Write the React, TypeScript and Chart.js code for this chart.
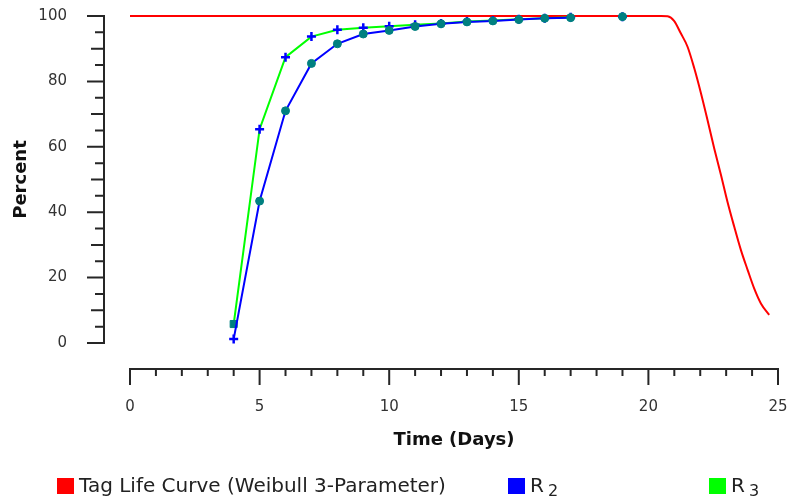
import React, { useEffect, useRef } from "react";
import { Chart, registerables } from "chart.js";

Chart.register(...registerables);

// ---- data ----
const curveDays = [0, 20.5, 20.74, 20.99, 21.25, 21.51, 21.77, 22.03, 22.28, 22.54, 22.8, 23.05, 23.31, 23.57, 23.83, 24.08, 24.34, 24.66];
const curvePercent = [100, 100, 99.9, 98.5, 94.7, 90.6, 84.0, 76.3, 68.2, 59.5, 51.4, 43.2, 35.6, 28.4, 22.3, 16.7, 12.1, 8.6];

const sampleDays = [4, 5, 6, 7, 8, 9, 10, 11, 12, 13, 14, 15, 16, 17, 18, 19];
const r2Percent = [1.2, 43.4, 71.0, 85.5, 91.5, 94.5, 95.6, 96.8, 97.6, 98.2, 98.5, 98.9, 99.3, 99.5, null, 99.8];
const r3Percent = [5.8, 65.4, 87.4, 93.7, 95.8, 96.4, 96.9, 97.3, 97.7, 98.3, 98.6, 99.0, 99.3, 99.6, null, 99.8];

const xTickLabels = [0, 5, 10, 15, 20, 25];
const yTickLabels = [0, 20, 40, 60, 80, 100];
const seriesLabels = ["Tag Life Curve (Weibull 3-Parameter)", "R\u2082", "R\u2083"];
const xTitle = "Time (Days)";
const yTitle = "Percent";

// ---- layout / style constants ----
const W = 788;
const H = 502;
const FONT = "DejaVu Sans";
const AXIS_GAP = 26;
const LEGEND_X = [57, 508, 709];
const LEGEND_Y = 486;
const SUBSCRIPTS = "\u2080\u2081\u2082\u2083\u2084\u2085\u2086\u2087\u2088\u2089";

const detachedAxes = {
  id: "detachedAxes",
  afterDraw(chart: any) {
    const { ctx, chartArea, scales } = chart;
    const xs = scales.x;
    const ys = scales.y;
    const axisX = chartArea.left - AXIS_GAP;
    const axisY = chartArea.bottom + AXIS_GAP;
    ctx.save();
    ctx.strokeStyle = "#262626";
    ctx.lineWidth = 2;
    ctx.beginPath();
    ctx.moveTo(axisX, ys.getPixelForValue(ys.min) + 1);
    ctx.lineTo(axisX, ys.getPixelForValue(ys.max) - 1);
    for (let v = ys.min; v <= ys.max; v += 5) {
      const py = ys.getPixelForValue(v);
      const len = v % 20 === 0 ? 17 : v % 10 === 0 ? 13 : 9;
      ctx.moveTo(axisX - len, py);
      ctx.lineTo(axisX, py);
    }
    ctx.moveTo(xs.getPixelForValue(xs.min) - 1, axisY);
    ctx.lineTo(xs.getPixelForValue(xs.max) + 1, axisY);
    for (let v = xs.min; v <= xs.max; v += 1) {
      const px = xs.getPixelForValue(v);
      const len = v % 5 === 0 ? 16 : 7;
      ctx.moveTo(px, axisY);
      ctx.lineTo(px, axisY + len);
    }
    ctx.stroke();
    ctx.restore();
  },
};

const boxLegend = {
  id: "boxLegend",
  afterDraw(chart: any) {
    const { ctx } = chart;
    ctx.save();
    ctx.textBaseline = "middle";
    ctx.textAlign = "left";
    chart.data.datasets.forEach((ds: any, i: number) => {
      ctx.fillStyle = ds.legendColor;
      ctx.fillRect(LEGEND_X[i], LEGEND_Y - 8, 17, 16);
      ctx.fillStyle = "#222";
      const label: string = ds.label;
      const last = label.slice(-1);
      const subIdx = SUBSCRIPTS.indexOf(last);
      const tx = LEGEND_X[i] + 22;
      ctx.font = `20px "${FONT}"`;
      if (subIdx >= 0) {
        const base = label.slice(0, -1);
        ctx.fillText(base, tx, LEGEND_Y + 1);
        const bw = ctx.measureText(base).width;
        ctx.font = `16px "${FONT}"`;
        ctx.fillText(String(subIdx), tx + bw + 4, LEGEND_Y + 6);
      } else {
        ctx.fillText(label, tx, LEGEND_Y + 1);
      }
    });
    ctx.restore();
  },
};

export default function App() {
  const ref = useRef<HTMLCanvasElement | null>(null);

  useEffect(() => {
    if (!ref.current) return;
    const teal = "#008080";
    const blue = "#0000ff";
    const chart = new Chart(ref.current, {
      type: "line",
      data: {
        datasets: [
          {
            label: seriesLabels[0],
            data: curveDays.map((d, i) => ({ x: d, y: curvePercent[i] })),
            borderColor: "#ff0000",
            legendColor: "#ff0000",
            borderWidth: 2,
            pointRadius: 0,
            cubicInterpolationMode: "monotone",
            clip: false,
            order: 3,
          } as any,
          {
            label: seriesLabels[1],
            data: sampleDays.map((d, i) => ({ x: d, y: r2Percent[i] })),
            borderColor: blue,
            legendColor: blue,
            borderWidth: 2,
            pointStyle: (c: any) => (c.dataIndex === 0 ? "cross" : "circle"),
            pointRadius: (c: any) => (c.dataIndex === 0 ? 4.5 : 4),
            pointBorderWidth: (c: any) => (c.dataIndex === 0 ? 2.5 : 1),
            pointBackgroundColor: (c: any) => (c.dataIndex === 0 ? blue : teal),
            pointBorderColor: (c: any) => (c.dataIndex === 0 ? blue : teal),
            clip: false,
            order: 1,
          } as any,
          {
            label: seriesLabels[2],
            data: sampleDays.map((d, i) => ({ x: d, y: r3Percent[i] })),
            borderColor: "#00ff00",
            legendColor: "#00ff00",
            borderWidth: 2,
            pointStyle: (c: any) => (c.dataIndex === 0 ? "rect" : "cross"),
            pointRadius: (c: any) => (c.dataIndex === 0 ? 5 : 4.5),
            pointBorderWidth: (c: any) => (c.dataIndex === 0 ? 1 : 2.5),
            pointBackgroundColor: (c: any) => (c.dataIndex === 0 ? teal : blue),
            pointBorderColor: (c: any) => (c.dataIndex === 0 ? teal : blue),
            clip: false,
            order: 2,
          } as any,
        ],
      },
      options: {
        animation: false,
        responsive: false,
        layout: { padding: { top: 16, right: 10, left: 0, bottom: 0 } },
        plugins: {
          legend: { display: false },
          tooltip: { enabled: false },
          title: { display: false },
        },
        scales: {
          x: {
            type: "linear",
            position: "bottom",
            min: 0,
            max: 25,
            afterBuildTicks: (s: any) => {
              s.ticks = xTickLabels.map((v) => ({ value: v }));
            },
            afterFit: (s: any) => {
              s.height = 159;
              s.paddingLeft = 0;
              s.paddingRight = 0;
            },
            grid: { display: false, drawTicks: false },
            border: { display: false },
            ticks: {
              padding: 55,
              color: "#333",
              font: { family: FONT, size: 15 },
              maxRotation: 0,
            },
            title: {
              display: true,
              text: xTitle,
              color: "#111",
              font: { family: FONT, size: 18, weight: "bold" },
              padding: { top: 0, bottom: 51 },
            },
          },
          y: {
            type: "linear",
            position: "left",
            min: 0,
            max: 100,
            afterBuildTicks: (s: any) => {
              s.ticks = yTickLabels.map((v) => ({ value: v }));
            },
            afterFit: (s: any) => {
              s.width = 130;
              s.paddingTop = 0;
              s.paddingBottom = 0;
            },
            grid: { display: false, drawTicks: false },
            border: { display: false },
            ticks: {
              padding: 63,
              color: "#333",
              font: { family: FONT, size: 15 },
            },
            title: {
              display: true,
              text: yTitle,
              color: "#111",
              font: { family: FONT, size: 18, weight: "bold" },
              padding: { top: 11, bottom: 0 },
            },
          },
        },
      },
      plugins: [detachedAxes, boxLegend],
    });
    return () => chart.destroy();
  }, []);

  return (
    <div style={{ position: "absolute", left: 0, top: 0, width: W, height: H, background: "#fff" }}>
      <canvas ref={ref} width={W} height={H} style={{ display: "block" }} />
    </div>
  );
}
